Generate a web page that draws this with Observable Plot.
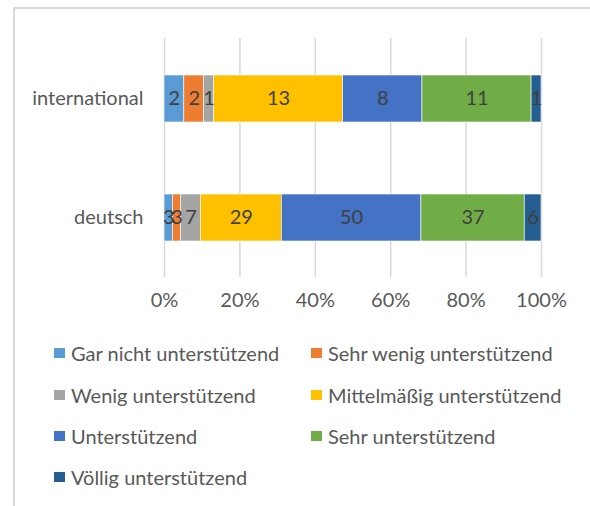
<!DOCTYPE html>
<html>
<head>
<meta charset="utf-8">
<script src="https://cdn.jsdelivr.net/npm/d3@7"></script>
<script src="https://cdn.jsdelivr.net/npm/@observablehq/plot@0.6"></script>
<style>
  html, body { margin: 0; padding: 0; background: #fff; }
  #wrap { position: relative; width: 590px; height: 506px; overflow: hidden; font-family: Lato, "Liberation Sans", sans-serif; }
  #frame { position: absolute; left: 13px; top: 7px; width: 600px; height: 520px; border-left: 2px solid #d9d9d9; border-top: 2px solid #d9d9d9; box-sizing: border-box; }
  #chart { position: absolute; left: 0; top: 0; }
  .item { position: absolute; height: 26px; display: flex; align-items: center; font-size: 20px; color: #595959; white-space: nowrap; }
  .sw { width: 11px; height: 10px; margin-right: 6px; flex: none; }
</style>
</head>
<body>
<div id="wrap">
  <div id="frame"></div>
  <div id="chart"></div>
  <div id="legend"></div>
</div>
<script>
const categories = ["international", "deutsch"];
const series = [
  "Gar nicht unterstützend",
  "Sehr wenig unterstützend",
  "Wenig unterstützend",
  "Mittelmäßig unterstützend",
  "Unterstützend",
  "Sehr unterstützend",
  "Völlig unterstützend"
];
const colors = ["#5B9BD5", "#ED7D31", "#A5A5A5", "#FFC000", "#4472C4", "#70AD47", "#255E91"];
const international = [2, 2, 1, 13, 8, 11, 1];
const deutsch = [3, 3, 7, 29, 50, 37, 6];
const xTicks = [0, 0.2, 0.4, 0.6, 0.8, 1];

const valuesByCat = { international, deutsch };
const data = [];
for (const cat of categories) {
  series.forEach((s, i) => data.push({ cat, series: s, value: valuesByCat[cat][i] }));
}

const chart = Plot.plot({
  width: 590,
  height: 320,
  marginLeft: 164,
  marginRight: 49,
  marginTop: 38,
  marginBottom: 43,
  style: { fontFamily: "Lato, 'Liberation Sans', sans-serif", fontSize: "20px", color: "#595959", background: "transparent", overflow: "visible" },
  x: { domain: [0, 1], label: null },
  y: { domain: categories, paddingInner: 0.607, paddingOuter: 0.303, label: null },
  color: { domain: series, range: colors },
  marks: [
    Plot.ruleX(xTicks, { stroke: "#d9d9d9", strokeWidth: 1.5 }),
    Plot.barX(data, Plot.stackX({ offset: "normalize", x: "value", y: "cat", z: "series", fill: "series", stroke: "white", strokeWidth: 0.6 })),
    Plot.textX(data, Plot.stackX({ offset: "normalize", x: "value", y: "cat", z: "series", text: "value", fill: "#404040", fontSize: 20 })),
    Plot.axisX({ ticks: xTicks, tickFormat: d => Math.round(d * 100) + "%", tickSize: 0, tickPadding: 15, label: null, fill: "#595959" }),
    Plot.axisY({ tickSize: 0, tickPadding: 21, label: null, fill: "#595959" })
  ]
});
document.getElementById("chart").appendChild(chart);

const legend = document.getElementById("legend");
const rowsY = [353, 395, 436, 477];
const colsX = [54, 311];
series.forEach((s, i) => {
  const row = Math.floor(i / 2), col = i % 2;
  const el = document.createElement("div");
  el.className = "item";
  el.style.left = colsX[col] + "px";
  el.style.top = (rowsY[row] - 13) + "px";
  const sw = document.createElement("span");
  sw.className = "sw";
  sw.style.background = colors[i];
  el.appendChild(sw);
  el.appendChild(document.createTextNode(s));
  legend.appendChild(el);
});
</script>
</body>
</html>
